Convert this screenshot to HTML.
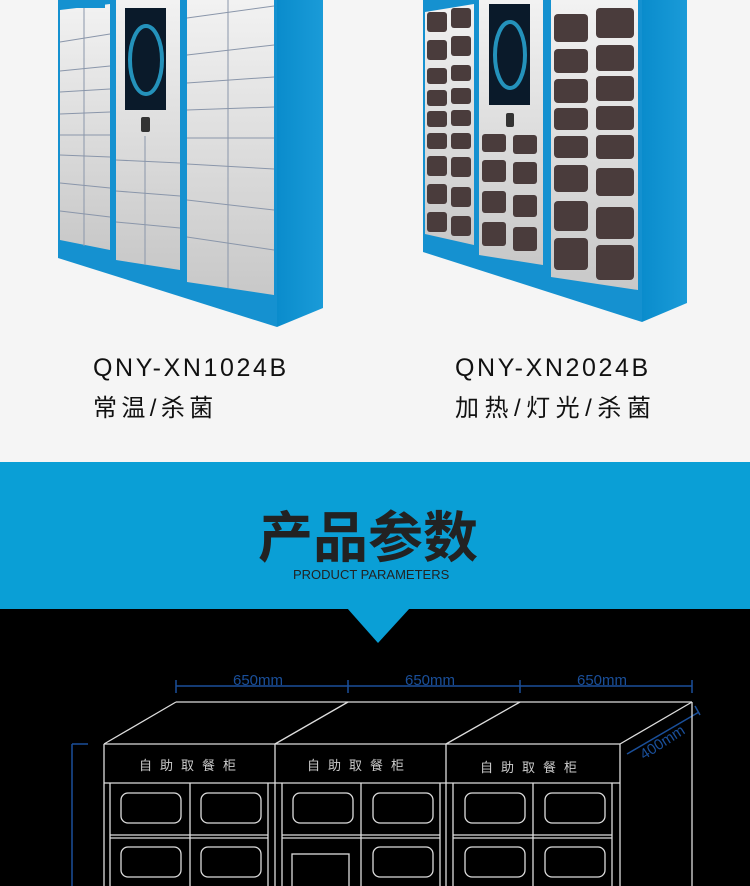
<!DOCTYPE html>
<html><head><meta charset="utf-8"><style>
html,body{margin:0;padding:0}
body{width:750px;height:886px;position:relative;overflow:hidden;background:#f5f5f5;font-family:"Liberation Sans","Noto Sans CJK SC",sans-serif}
.t{position:absolute;color:#111;white-space:nowrap}
</style></head><body>
<svg width="750" height="462" style="position:absolute;left:0;top:0">
<defs>
<linearGradient id="dg" x1="0" y1="0" x2="0" y2="1"><stop offset="0" stop-color="#f2f2f2"/><stop offset="1" stop-color="#c8c8c8"/></linearGradient>
<linearGradient id="sg" x1="0" y1="0" x2="1" y2="0"><stop offset="0" stop-color="#0a8ccc"/><stop offset="1" stop-color="#1a9bd8"/></linearGradient>
</defs>
<polygon points="58,0 277,0 277,327 58,258" fill="#1591d0"/>
<polygon points="277,0 323,0 323,308 277,327" fill="url(#sg)"/>
<polygon points="60,10 110,4 110,250 60,240" fill="url(#dg)"/>
<g stroke="#8a96aa" stroke-width="1">
<line x1="84" y1="8" x2="84" y2="246"/>
<line x1="60" y1="42" x2="110" y2="34"/><line x1="60" y1="71" x2="110" y2="66"/><line x1="60" y1="92" x2="110" y2="89"/><line x1="60" y1="114" x2="110" y2="112"/><line x1="60" y1="135" x2="110" y2="135"/><line x1="60" y1="155" x2="110" y2="157"/><line x1="60" y1="183" x2="110" y2="188"/><line x1="60" y1="211" x2="110" y2="217"/>
</g>
<polygon points="116,0 180,0 180,270 116,260" fill="url(#dg)"/>
<rect x="125" y="8" width="41" height="102" fill="#0a1a2a"/>
<ellipse cx="146" cy="60" rx="16" ry="34" fill="none" stroke="#2ab0e0" stroke-width="4" opacity=".8"/>
<rect x="141" y="117" width="9" height="15" rx="2" fill="#333"/>
<g stroke="#8a96aa"><line x1="145" y1="136" x2="145" y2="265"/><line x1="116" y1="160" x2="180" y2="163"/><line x1="116" y1="191" x2="180" y2="196"/><line x1="116" y1="222" x2="180" y2="228"/></g>
<polygon points="187,0 274,0 274,295 187,282" fill="url(#dg)"/>
<g stroke="#8a96aa"><line x1="228" y1="0" x2="228" y2="288"/><line x1="187" y1="18" x2="274" y2="6"/><line x1="187" y1="55" x2="274" y2="45"/><line x1="187" y1="83" x2="274" y2="77"/><line x1="187" y1="110" x2="274" y2="107"/><line x1="187" y1="138" x2="274" y2="138"/><line x1="187" y1="164" x2="274" y2="169"/><line x1="187" y1="200" x2="274" y2="210"/><line x1="187" y1="237" x2="274" y2="250"/></g>
<rect x="60" y="0" width="45" height="8" fill="#1591d0"/>
<polygon points="423,0 642,0 642,322 423,252" fill="#1591d0"/>
<polygon points="642,0 687,0 687,303 642,322" fill="url(#sg)"/>
<polygon points="425,12 474,4 474,245 425,234" fill="url(#dg)"/>
<polygon points="479,0 543,0 543,265 479,255" fill="url(#dg)"/>
<rect x="489" y="4" width="41" height="101" fill="#0a1a2a"/>
<ellipse cx="510" cy="55" rx="15" ry="33" fill="none" stroke="#2ab0e0" stroke-width="4" opacity=".8"/>
<rect x="506" y="113" width="8" height="14" rx="2" fill="#333"/>
<polygon points="551,0 638,0 638,290 551,277" fill="url(#dg)"/>
<g fill="#4a3c3c">
<rect x="427" y="12" width="20" height="20" rx="3"/><rect x="451" y="8" width="20" height="20" rx="3"/>
<rect x="427" y="40" width="20" height="20" rx="3"/><rect x="451" y="36" width="20" height="20" rx="3"/>
<rect x="427" y="68" width="20" height="16" rx="3"/><rect x="451" y="65" width="20" height="16" rx="3"/>
<rect x="427" y="90" width="20" height="16" rx="3"/><rect x="451" y="88" width="20" height="16" rx="3"/>
<rect x="427" y="111" width="20" height="16" rx="3"/><rect x="451" y="110" width="20" height="16" rx="3"/>
<rect x="427" y="133" width="20" height="16" rx="3"/><rect x="451" y="133" width="20" height="16" rx="3"/>
<rect x="427" y="156" width="20" height="20" rx="3"/><rect x="451" y="157" width="20" height="20" rx="3"/>
<rect x="427" y="184" width="20" height="20" rx="3"/><rect x="451" y="187" width="20" height="20" rx="3"/>
<rect x="427" y="212" width="20" height="20" rx="3"/><rect x="451" y="216" width="20" height="20" rx="3"/>
<rect x="482" y="134" width="24" height="18" rx="3"/><rect x="513" y="135" width="24" height="19" rx="3"/>
<rect x="482" y="160" width="24" height="22" rx="3"/><rect x="513" y="162" width="24" height="22" rx="3"/>
<rect x="482" y="191" width="24" height="22" rx="3"/><rect x="513" y="195" width="24" height="22" rx="3"/>
<rect x="482" y="222" width="24" height="24" rx="3"/><rect x="513" y="227" width="24" height="24" rx="3"/>
<rect x="554" y="14" width="34" height="28" rx="4"/><rect x="596" y="8" width="38" height="30" rx="4"/>
<rect x="554" y="49" width="34" height="24" rx="4"/><rect x="596" y="45" width="38" height="26" rx="4"/>
<rect x="554" y="79" width="34" height="24" rx="4"/><rect x="596" y="76" width="38" height="25" rx="4"/>
<rect x="554" y="108" width="34" height="22" rx="4"/><rect x="596" y="106" width="38" height="24" rx="4"/>
<rect x="554" y="136" width="34" height="22" rx="4"/><rect x="596" y="135" width="38" height="24" rx="4"/>
<rect x="554" y="165" width="34" height="27" rx="4"/><rect x="596" y="168" width="38" height="28" rx="4"/>
<rect x="554" y="201" width="34" height="30" rx="4"/><rect x="596" y="207" width="38" height="32" rx="4"/>
<rect x="554" y="238" width="34" height="32" rx="4"/><rect x="596" y="245" width="38" height="35" rx="4"/>
</g>
</svg>
<div class="t" style="left:93px;top:354px;font-size:25px;letter-spacing:2.6px">QNY-XN1024B</div>
<div class="t" style="left:93px;top:388px;font-size:24px;letter-spacing:4.4px">常温/杀菌</div>
<div class="t" style="left:455px;top:354px;font-size:25px;letter-spacing:2.6px">QNY-XN2024B</div>
<div class="t" style="left:455px;top:388px;font-size:24px;letter-spacing:5.5px">加热/灯光/杀菌</div>
<div style="position:absolute;left:0;top:462px;width:750px;height:147px;background:#0a9fd6"></div>
<div class="t" style="left:258px;top:493px;font-size:55px;font-weight:bold;color:#222">产品参数</div>
<div class="t" style="left:293px;top:567px;font-size:13px;color:#222;letter-spacing:0px">PRODUCT PARAMETERS</div>
<div style="position:absolute;left:0;top:609px;width:750px;height:277px;background:#000"></div>
<svg width="750" height="886" style="position:absolute;left:0;top:0">
<polygon points="347,608 410,608 378,643" fill="#0a9fd6"/>
<g stroke="#1a4f9a" stroke-width="1.5" fill="none">
<line x1="176" y1="686" x2="692" y2="686"/>
<line x1="176" y1="680" x2="176" y2="693"/><line x1="348" y1="680" x2="348" y2="693"/><line x1="520" y1="680" x2="520" y2="693"/><line x1="692" y1="680" x2="692" y2="693"/>
<line x1="72" y1="744" x2="72" y2="886"/><line x1="72" y1="744" x2="88" y2="744"/>
<line x1="627" y1="754" x2="699" y2="712"/><line x1="695" y1="706" x2="700" y2="715"/>
</g>
<g fill="#1a4f9a" font-family="Liberation Sans, sans-serif" font-size="15">
<text x="233" y="685">650mm</text><text x="405" y="685">650mm</text><text x="577" y="685">650mm</text>
<text x="644" y="760" transform="rotate(-33 644 760)">400mm</text>
</g>
<g stroke="#ddd" stroke-width="1.3" fill="none">
<line x1="176" y1="702" x2="692" y2="702"/>
<line x1="104" y1="744" x2="620" y2="744"/>
<line x1="104" y1="744" x2="176" y2="702"/><line x1="275" y1="744" x2="348" y2="702"/><line x1="446" y1="744" x2="520" y2="702"/><line x1="620" y1="744" x2="692" y2="702"/>
<line x1="692" y1="702" x2="692" y2="886"/>
<line x1="104" y1="744" x2="104" y2="886"/><line x1="275" y1="744" x2="275" y2="886"/><line x1="446" y1="744" x2="446" y2="886"/><line x1="620" y1="744" x2="620" y2="886"/>
<line x1="104" y1="783" x2="620" y2="783"/>
<line x1="110" y1="783" x2="110" y2="886"/><line x1="190" y1="783" x2="190" y2="886"/><line x1="268" y1="783" x2="268" y2="886"/>
<line x1="282" y1="783" x2="282" y2="886"/><line x1="361" y1="783" x2="361" y2="886"/><line x1="440" y1="783" x2="440" y2="886"/>
<line x1="453" y1="783" x2="453" y2="886"/><line x1="533" y1="783" x2="533" y2="886"/><line x1="612" y1="783" x2="612" y2="886"/>
<line x1="110" y1="835" x2="268" y2="835"/><line x1="110" y1="838" x2="268" y2="838"/>
<line x1="282" y1="835" x2="440" y2="835"/><line x1="282" y1="838" x2="440" y2="838"/>
<line x1="453" y1="835" x2="612" y2="835"/><line x1="453" y1="838" x2="612" y2="838"/>
<rect x="121" y="793" width="60" height="30" rx="7"/><rect x="201" y="793" width="60" height="30" rx="7"/>
<rect x="293" y="793" width="60" height="30" rx="7"/><rect x="373" y="793" width="60" height="30" rx="7"/>
<rect x="465" y="793" width="60" height="30" rx="7"/><rect x="545" y="793" width="60" height="30" rx="7"/>
<rect x="121" y="847" width="60" height="30" rx="7"/><rect x="201" y="847" width="60" height="30" rx="7"/>
<rect x="292" y="854" width="57" height="34"/><rect x="373" y="847" width="60" height="30" rx="7"/>
<rect x="465" y="847" width="60" height="30" rx="7"/><rect x="545" y="847" width="60" height="30" rx="7"/>
</g>
<g fill="#ccc" font-family="Liberation Sans, Noto Sans CJK SC, sans-serif" font-size="13" letter-spacing="8">
<text x="139" y="770">自助取餐柜</text><text x="307" y="770">自助取餐柜</text><text x="480" y="772">自助取餐柜</text>
</g>
</svg>
</body></html>
